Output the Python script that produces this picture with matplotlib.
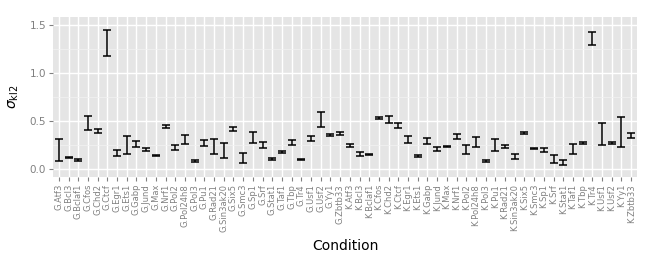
import numpy as np
import matplotlib
matplotlib.use("Agg")
import matplotlib.pyplot as plt
from matplotlib.ticker import MultipleLocator

# Conditions (G = first cell line, K = second)
factors = ["Atf3", "Bcl3", "Bclaf1", "Cfos", "Chd2", "Ctcf", "Egr1", "Ets1", "Gabp", "Jund",
           "Max", "Nrf1", "Pol2", "Pol24h8", "Pol3", "Pu1", "Rad21", "Sin3ak20", "Six5", "Smc3",
           "Sp1", "Srf", "Stat1", "Taf1", "Tbp", "Tr4", "Usf1", "Usf2", "Yy1", "Zbtb33"]
conditions = ["G." + f for f in factors] + ["K." + f for f in factors]

# Interval bounds
g_lower = [0.090, 0.114, 0.090, 0.408, 0.377, 1.178, 0.138, 0.163, 0.235, 0.190,
           0.135, 0.429, 0.197, 0.263, 0.080, 0.246, 0.163, 0.118, 0.401, 0.069,
           0.277, 0.221, 0.097, 0.166, 0.256, 0.093, 0.291, 0.439, 0.346, 0.353]
g_upper = [0.311, 0.128, 0.107, 0.557, 0.422, 1.445, 0.197, 0.343, 0.294, 0.218,
           0.149, 0.457, 0.249, 0.353, 0.100, 0.304, 0.311, 0.270, 0.443, 0.166,
           0.388, 0.287, 0.118, 0.187, 0.301, 0.111, 0.349, 0.595, 0.370, 0.391]
k_lower = [0.232, 0.135, 0.145, 0.522, 0.478, 0.429, 0.277, 0.125, 0.260, 0.190,
           0.228, 0.318, 0.159, 0.232, 0.080, 0.190, 0.218, 0.111, 0.367, 0.211,
           0.176, 0.069, 0.045, 0.156, 0.266, 1.290, 0.256, 0.266, 0.235, 0.329]
k_upper = [0.260, 0.180, 0.159, 0.547, 0.557, 0.484, 0.349, 0.152, 0.322, 0.232,
           0.242, 0.367, 0.249, 0.339, 0.093, 0.318, 0.253, 0.163, 0.388, 0.225,
           0.218, 0.149, 0.093, 0.263, 0.280, 1.427, 0.484, 0.280, 0.540, 0.381]

lower = np.array(g_lower + k_lower)
upper = np.array(g_upper + k_upper)
x = np.arange(1, len(conditions) + 1)

fig = plt.figure(figsize=(6.53, 2.65), dpi=100)
ax = fig.add_axes([53 / 653, 88 / 265, 584 / 653, 160 / 265])
ax.set_facecolor("#E5E5E5")

# grid
ax.yaxis.set_major_locator(MultipleLocator(0.5))
ax.yaxis.set_minor_locator(MultipleLocator(0.25))
ax.set_xticks(x)
ax.grid(which="major", color="white", linewidth=1.0)
ax.grid(which="minor", axis="y", color="#F2F2F2", linewidth=0.5)
ax.set_axisbelow(True)

mid = (lower + upper) / 2
half = (upper - lower) / 2
ax.errorbar(x, mid, yerr=half, fmt="none", ecolor="black", elinewidth=1.1,
            capsize=3.0, capthick=1.1)

ax.set_xlim(0.4, len(conditions) + 0.6)
ax.set_ylim(-0.08, 1.58)
for s in ax.spines.values():
    s.set_visible(False)

ax.set_yticks([0.0, 0.5, 1.0, 1.5])
ax.set_yticklabels(["0.0", "0.5", "1.0", "1.5"], fontsize=7.5, color="#808080")
ax.set_xticklabels(conditions, rotation=90, fontsize=6, color="#808080")
ax.tick_params(axis="both", which="major", color="#808080", length=3, width=0.8, pad=2)
ax.tick_params(axis="y", which="minor", length=0)

ax.set_ylabel(r"$\sigma_{\mathrm{kl2}}$", fontsize=10, labelpad=6)
ax.set_xlabel("Condition", fontsize=10)
ax.xaxis.set_label_coords(0.5, -0.39)

fig.savefig("out.png", dpi=100)
